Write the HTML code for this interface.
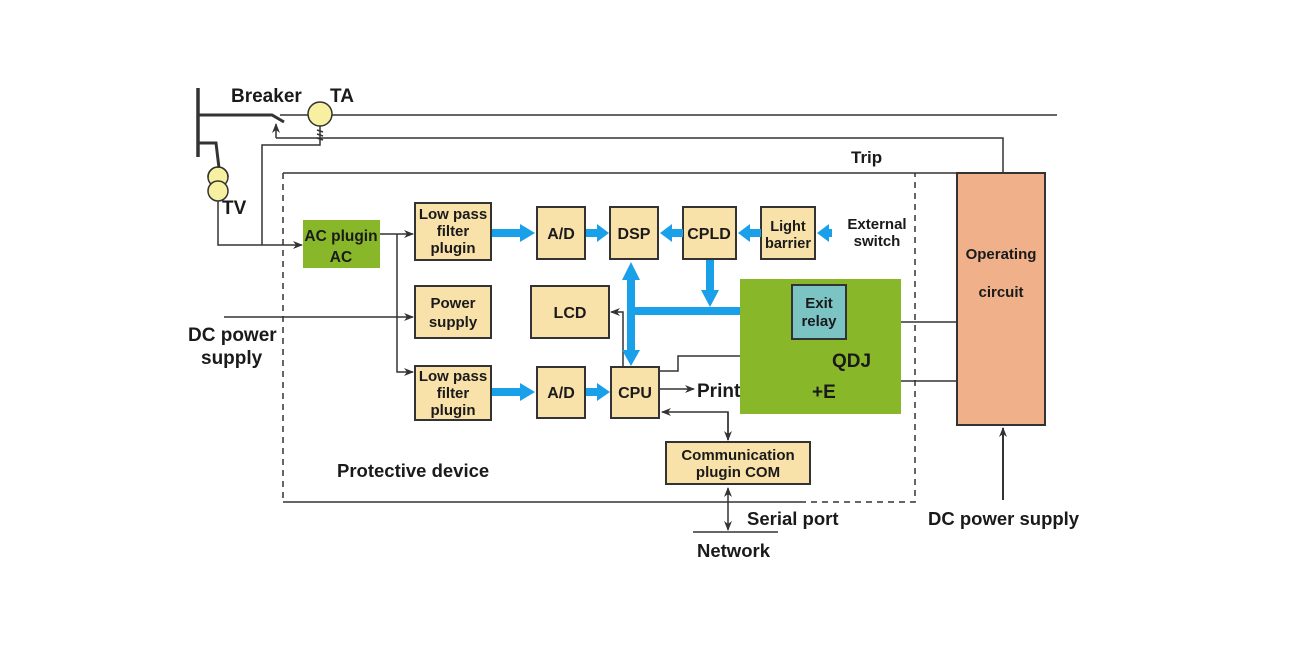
<!DOCTYPE html>
<html><head><meta charset="utf-8"><style>
html,body{margin:0;padding:0;background:#fff;}
svg text{font-family:"Liberation Sans",sans-serif;font-weight:bold;fill:#1a1a1a;}
</style></head><body>
<svg width="1300" height="642" viewBox="0 0 1300 642" xmlns="http://www.w3.org/2000/svg">
<defs>
<marker id="a" markerWidth="10" markerHeight="8" refX="9" refY="4" orient="auto" markerUnits="userSpaceOnUse"><path d="M0,0 L10,4 L0,8 L3,4z" fill="#333"/></marker>
</defs>
<g stroke="#333" fill="none" stroke-width="1.5">
<path d="M198,88 V157" stroke-width="3.5"/>
<path d="M198,115 H272 L284,122" stroke-width="3"/>
<path d="M198,143 H216 L219,168" stroke-width="3"/>
<path d="M280,115 H1057"/>
<path d="M276,138 H1003 V173"/>
<path d="M276,138 V124" marker-end="url(#a)"/>
<path d="M320,126 V145 H262 V245"/>
<path d="M317,130 l6,2 M317,134 l6,2 M317,138 l6,2" />
<path d="M218,200 V245 H302" marker-end="url(#a)"/>
<path d="M283,173 H957"/>
<path d="M283,173 V502" stroke-dasharray="6,5"/>
<path d="M283,502 H800"/>
<path d="M800,502 H915 V173" stroke-dasharray="6,5"/>
<path d="M380,234 H413" marker-end="url(#a)"/>
<path d="M397,234 V372 H413" marker-end="url(#a)"/>
<path d="M224,317 H413" marker-end="url(#a)"/>
<path d="M623,367 V312 H611" marker-end="url(#a)"/>
<path d="M660,371 H678 V356 H808" marker-end="url(#a)"/>
<path d="M808,350 L818,340 M819,339 V329" />
<path d="M660,389 H694" marker-end="url(#a)"/>
<path d="M728,440 V412 H662" marker-end="url(#a)"/>
<path d="M728,412 V440" marker-end="url(#a)"/>
<path d="M728,500 V488" marker-end="url(#a)"/>
<path d="M728,500 V530" marker-end="url(#a)"/>
<path d="M693,532 H778"/>
<path d="M901,322 H957 M901,381 H957"/>
<path d="M1003,500 V428" marker-end="url(#a)" stroke-width="2"/>
</g>
<circle cx="320" cy="114" r="12" fill="#f7f0a0" stroke="#333" stroke-width="1.5"/>
<circle cx="218" cy="177" r="10" fill="#f7f0a0" stroke="#333" stroke-width="1.5"/>
<circle cx="218" cy="191" r="10" fill="#f7f0a0" stroke="#333" stroke-width="1.5"/>
<path d="M208,177 a10,10 0 0 1 20,0" fill="none" stroke="#333" stroke-width="1.5"/>
<g stroke="#333" stroke-width="2" fill="#f8e2aa">
<rect x="303" y="220" width="77" height="48" fill="#89b72a" stroke="none"/>
<rect x="415" y="203" width="76" height="57"/>
<rect x="415" y="286" width="76" height="52"/>
<rect x="415" y="366" width="76" height="54"/>
<rect x="537" y="207" width="48" height="52"/>
<rect x="537" y="367" width="48" height="51"/>
<rect x="610" y="207" width="48" height="52"/>
<rect x="683" y="207" width="53" height="52"/>
<rect x="761" y="207" width="54" height="52"/>
<rect x="531" y="286" width="78" height="52"/>
<rect x="611" y="367" width="48" height="51"/>
<rect x="740" y="279" width="161" height="135" fill="#89b72a" stroke="none"/>
<rect x="792" y="285" width="54" height="54" fill="#7cc3c3"/>
<rect x="666" y="442" width="144" height="42"/>
<rect x="957" y="173" width="88" height="252" fill="#f0b08a"/>
</g>
<g fill="#1aa0e8">
<polygon points="492,229 520,229 520,224 535,233 520,242 520,237 492,237"/>
<polygon points="586,229 597,229 597,224 609,233 597,242 597,237 586,237"/>
<polygon points="492,388 520,388 520,383 535,392 520,401 520,396 492,396"/>
<polygon points="586,388 597,388 597,383 610,392 597,401 597,396 586,396"/>
<polygon points="683,229 672,229 672,224 660,233 672,242 672,237 683,237"/>
<polygon points="761,229 750,229 750,224 738,233 750,242 750,237 761,237"/>
<polygon points="832,229 829,229 829,224 817,233 829,242 829,237 832,237"/>
<polygon points="627,350 627,280 622,280 631,262 640,280 635,280 635,350 640,350 631,366 622,350"/>
<polygon points="706,260 714,260 714,290 719,290 710,307 701,290 706,290"/>
<rect x="631" y="307" width="109" height="8"/>
</g>
<g font-size="18">
<text x="231" y="102" font-size="19">Breaker</text>
<text x="330" y="102" font-size="19">TA</text>
<text x="222" y="214" font-size="19">TV</text>
<text x="851" y="163" font-size="17">Trip</text>
<text x="341" y="241" text-anchor="middle" font-size="15.5">AC plugin</text>
<text x="341" y="262" text-anchor="middle" font-size="15.5">AC</text>
<g font-size="15" text-anchor="middle">
<text x="453" y="219">Low pass</text><text x="453" y="236">filter</text><text x="453" y="253">plugin</text>
<text x="453" y="308">Power</text><text x="453" y="327">supply</text>
<text x="453" y="381">Low pass</text><text x="453" y="398">filter</text><text x="453" y="415">plugin</text>
<text x="561" y="239" font-size="16">A/D</text>
<text x="561" y="398" font-size="16">A/D</text>
<text x="634" y="239" font-size="16">DSP</text>
<text x="709" y="239" font-size="16">CPLD</text>
<text x="788" y="231" font-size="14.5">Light</text><text x="788" y="248" font-size="14.5">barrier</text>
<text x="877" y="229">External</text><text x="877" y="246">switch</text>
<text x="570" y="318" font-size="16">LCD</text>
<text x="635" y="398" font-size="16">CPU</text>
<text x="819" y="308">Exit</text><text x="819" y="326">relay</text>
<text x="738" y="460">Communication</text><text x="738" y="477">plugin COM</text>
<text x="1001" y="259">Operating</text><text x="1001" y="297">circuit</text>
</g>
<text x="832" y="367" font-size="19">QDJ</text>
<text x="812" y="398" font-size="19">+E</text>
<text x="697" y="397" font-size="19">Print</text>
<text x="188" y="341" font-size="19">DC power</text>
<text x="201" y="364" font-size="19">supply</text>
<text x="337" y="477" font-size="18.5">Protective device</text>
<text x="747" y="525" font-size="18.5">Serial port</text>
<text x="697" y="557" font-size="18.5">Network</text>
<text x="928" y="525" font-size="18.5">DC power supply</text>
</g>
</svg>
</body></html>
